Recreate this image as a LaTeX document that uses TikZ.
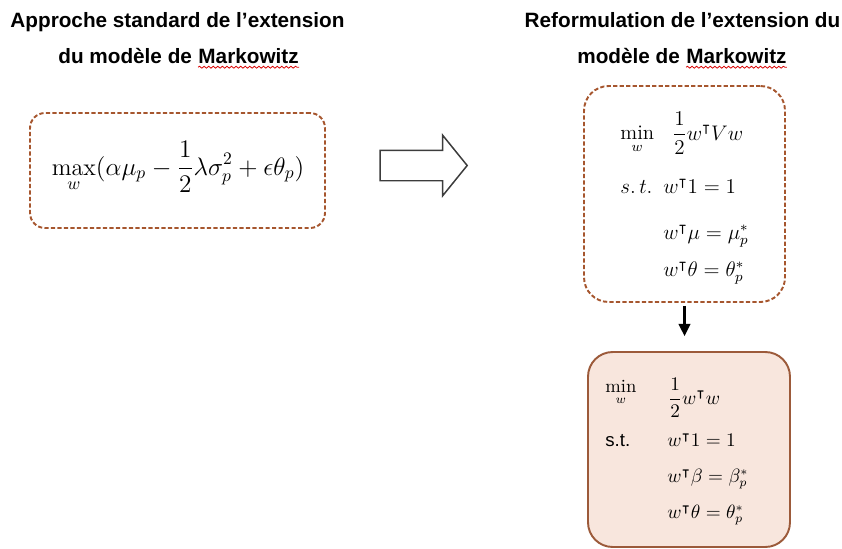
\documentclass[tikz,border=0pt]{standalone}
\usepackage{amssymb}
\usepackage{fontspec}
\newfontfamily\arialfont{Liberation Sans}
\usetikzlibrary{shapes.arrows,arrows.meta,decorations.pathmorphing}
\definecolor{dashbrown}{RGB}{166,86,46}
\definecolor{edgebrown}{RGB}{156,90,58}
\definecolor{boxpink}{RGB}{248,230,221}
\definecolor{arrowgray}{RGB}{60,60,60}
\begin{document}
\begin{tikzpicture}[x=0.02cm,y=-0.02cm,
  ttl/.style={font=\arialfont\bfseries\fontsize{11.8}{14}\selectfont,inner sep=0},
  wavy/.style={red!85!black,line width=0.45pt,decorate,decoration={snake,amplitude=0.55pt,segment length=2.6pt}},
  dashbox/.style={draw=dashbrown,line width=1.1pt,dash pattern=on 2.4pt off 1.3pt},
  mth/.style={inner sep=0,anchor=base west},
  mthB/.style={mth,font=\fontsize{11.8}{14}\selectfont},
  mthC/.style={mth,font=\fontsize{10.6}{13}\selectfont}]
  \useasboundingbox (0,0) rectangle (842,548);
  \node[ttl,anchor=base] (ttlA) at (177.5,27) {Approche standard de l’extension};
  \node[ttl,anchor=base west] (ttlB) at (58,63) {du modèle de};
  \node[ttl,anchor=base west,xshift=3.3pt] (mkA) at (ttlB.base east) {Markowitz};
  \draw[wavy] ([yshift=-2.4pt]mkA.base west) -- ([yshift=-2.4pt]mkA.base east);
  \node[ttl,anchor=base] (ttlC) at (682.5,27) {Reformulation de l’extension du};
  \node[ttl,anchor=base west] (ttlD) at (577,63) {modèle de};
  \node[ttl,anchor=base west,xshift=3.3pt] (mkB) at (ttlD.base east) {Markowitz};
  \draw[wavy] ([yshift=-2.4pt]mkB.base west) -- ([yshift=-2.4pt]mkB.base east);
  \node[dashbox,rounded corners=8.5pt,minimum width=5.9cm,minimum height=2.3cm] (boxA) at (177.5,170.5) {};
  \node[inner sep=0,font=\fontsize{13.8}{16}\selectfont] (objA) at (178,167) {$\displaystyle\max_w(\alpha\mu_p-\frac{1}{2}\lambda\sigma_p^2+\epsilon\theta_p)$};
  \node[single arrow,draw=arrowgray,line width=0.85pt,minimum height=1.74cm,inner xsep=0,inner ysep=0.29cm,single arrow head extend=0.3cm,single arrow tip angle=102] (push) at (417.5,165.5) {};
  \node[dashbox,rounded corners=14pt,minimum width=4.02cm,minimum height=4.32cm] (boxB) at (684.5,194) {};
  \node[mthB] (minB) at (620,139) {$\displaystyle\min_w$};
  \node[mthB] (objB) at (672,140) {$\displaystyle\frac{1}{2}w^\intercal Vw$};
  \node[mthB] (stB) at (620,193) {$s.\,t.$};
  \node[mthB] (c1B) at (663,193) {$w^\intercal 1=1$};
  \node[mthB] (c2B) at (663,239) {$w^\intercal\mu=\mu_p^*$};
  \node[mthB] (c3B) at (663,276) {$w^\intercal\theta=\theta_p^*$};
  \node[draw=edgebrown,fill=boxpink,line width=1.1pt,rounded corners=14pt,minimum width=4.04cm,minimum height=3.9cm] (boxC) at (689,449.5) {};
  \draw[line width=1.2pt,-{Triangle[width=6.6pt,length=7pt]},shorten <=1.7pt,shorten >=8.5pt] (boxB.south) -- (boxB.south |- boxC.north);
  \node[mthC] (minC) at (605,392) {$\displaystyle\min_w$};
  \node[mthC] (objC) at (668,404) {$\displaystyle\frac{1}{2}w^\intercal w$};
  \node[mthC,font=\arialfont\fontsize{10.6}{13}\selectfont] (stC) at (605,446) {s.t.};
  \node[mthC] (c1C) at (667,446) {$w^\intercal 1=1$};
  \node[mthC] (c2C) at (667,482) {$w^\intercal\beta=\beta_p^*$};
  \node[mthC] (c3C) at (667,518) {$w^\intercal\theta=\theta_p^*$};
\end{tikzpicture}
\end{document}
